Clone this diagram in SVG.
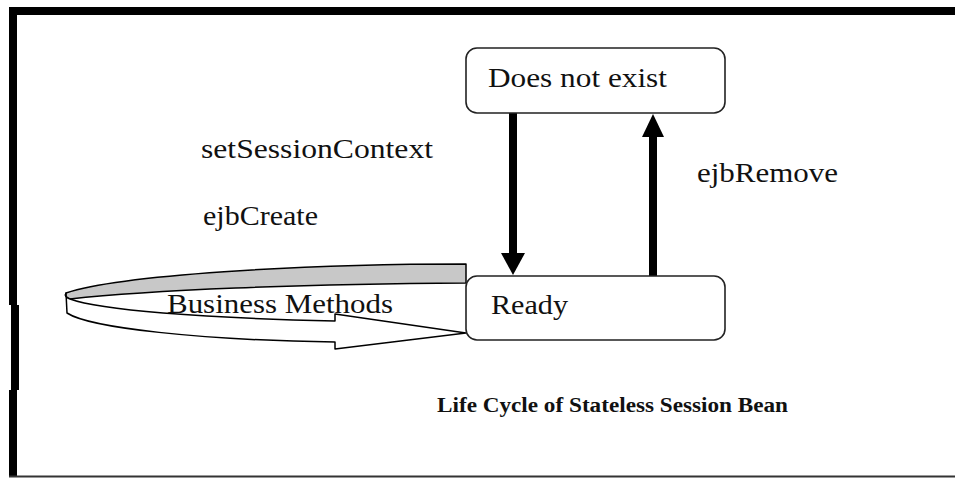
<svg xmlns="http://www.w3.org/2000/svg" width="955" height="479" viewBox="0 0 955 479">
<style>
.box{fill:#fff;stroke:#222;stroke-width:1.6}
.t{font-family:"Liberation Serif","Times New Roman",serif;fill:#111}
.shaft{stroke:#000;stroke-width:8;fill:none}
.head{fill:#000}
.rib{stroke:#000;stroke-width:1.5;stroke-linejoin:round}
</style>
<rect x="0" y="0" width="955" height="479" fill="#fff"/>
<g id="frame" fill="#000">
<rect x="9" y="7" width="946" height="8"/>
<rect x="9" y="7" width="8" height="298"/>
<rect x="11" y="305" width="8" height="85"/>
<rect x="9" y="390" width="8" height="87"/>
<rect x="9" y="475.5" width="946" height="2" fill="#333"/>
</g>
<g id="connectors">
<line class="shaft" x1="513" y1="113" x2="513" y2="254"/>
<polygon class="head" points="501,253 525,253 513,275"/>
<line class="shaft" x1="653" y1="136" x2="653" y2="276"/>
<polygon class="head" points="642,137 664,137 653,114"/>
<g id="business-loop">
<path class="rib" fill="#c8c8c8" d="M466,264 C300,264 120,275 66,293 Q64,297 70,299 C150,290 300,284 466,283 Z"/>
<path class="rib" fill="#fff" d="M66,293 Q64,297 70,299 C100,310 200,318 335,321 L335,314 L466,333 L335,349 L335,342 C200,340 90,328 67,313 Z"/>
</g>
</g>
<g id="node-does-not-exist">
<rect class="box" x="466" y="48" width="259" height="65" rx="11"/>
<text class="t" x="488" y="87" font-size="27" textLength="179" lengthAdjust="spacingAndGlyphs">Does not exist</text>
</g>
<g id="node-ready">
<rect class="box" x="466" y="276" width="259" height="64" rx="11"/>
<text class="t" x="491" y="314" font-size="27" textLength="77" lengthAdjust="spacingAndGlyphs">Ready</text>
</g>
<g id="labels">
<text class="t" x="167" y="313" font-size="28" textLength="226" lengthAdjust="spacingAndGlyphs">Business Methods</text>
<text class="t" x="201" y="158" font-size="27" textLength="232" lengthAdjust="spacingAndGlyphs">setSessionContext</text>
<text class="t" x="203" y="225" font-size="27" textLength="115" lengthAdjust="spacingAndGlyphs">ejbCreate</text>
<text class="t" x="697" y="182" font-size="27" textLength="141" lengthAdjust="spacingAndGlyphs">ejbRemove</text>
<text class="t" x="437" y="412" font-size="20" font-weight="bold" textLength="351" lengthAdjust="spacingAndGlyphs">Life Cycle of Stateless Session Bean</text>
</g>
</svg>
